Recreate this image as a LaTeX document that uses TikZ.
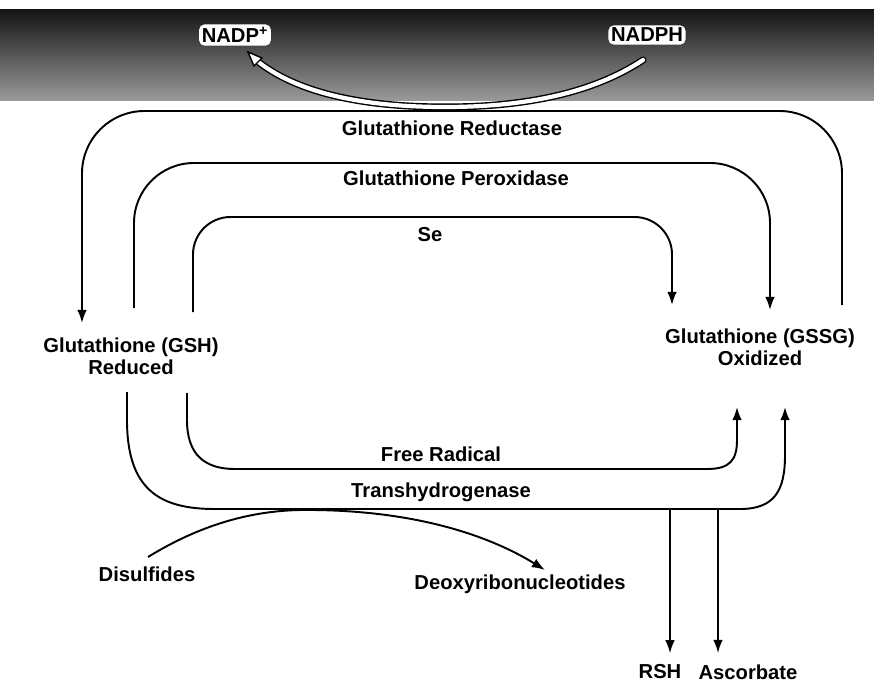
\documentclass[tikz,border=0pt]{standalone}
\usepackage{fontspec}
\setmainfont{Liberation Sans}
\usetikzlibrary{arrows.meta}

\begin{document}
\begin{tikzpicture}[
        x=0.02cm, y=-0.02cm,
        line width=1.1pt,
        lbl/.style={font=\bfseries\fontsize{11.5}{12.5}\selectfont, inner sep=1pt, align=center},
        cofactor/.style={lbl, fill=white, rounded corners=3pt, inner sep=1.5pt},
        arr/.style={-{Latex[length=7.5pt,width=5.5pt]}}]
        \useasboundingbox (0,0) rectangle (874,686);
        % BACKGROUND BAND
        \shade[top color=black!92, bottom color=black!40] (0,10) rectangle (874,100);
        % NODES
        % cofactors
        \node[cofactor] (nadp) at (235,35) {NADP\textsuperscript{+}};
        \node[cofactor] (nadph) at (647,35) {NADPH};
        % glutathione forms
        \node[lbl] (gsh) at (131,356) {Glutathione (GSH)\\Reduced};
        \node[lbl] (gssg) at (760,347) {Glutathione (GSSG)\\Oxidized};
        % enzyme labels
        \node[lbl] (red) at (452,128) {Glutathione Reductase};
        \node[lbl] (perox) at (456,178) {Glutathione Peroxidase};
        \node[lbl] (se) at (430,235) {Se};
        \node[lbl] (frad) at (441,454) {Free Radical};
        \node[lbl] (trans) at (441,492) {Transhydrogenase};
        % side products
        \node[lbl] (disulf) at (147,574) {Disulfides};
        \node[lbl] (deoxy) at (520,584) {Deoxyribonucleotides};
        \node[lbl] (rsh) at (660,672) {RSH};
        \node[lbl] (asc) at (748,672) {Ascorbate};
        % loop ends
        \coordinate (red-a) at (842,305);
        \coordinate (red-b) at (82,323);
        \coordinate (perox-a) at (134,308);
        \coordinate (perox-b) at (770,310);
        \coordinate (se-a) at (193,312);
        \coordinate (se-b) at (672,305);
        \coordinate (frad-a) at (187,393);
        \coordinate (frad-b) at (737,407);
        \coordinate (trans-a) at (127,392);
        \coordinate (trans-b) at (785,407);
        \coordinate (rsh-a) at (670,509);
        \coordinate (asc-a) at (718,509);
        \coordinate (disulf-a) at (148,557);
        \coordinate (deoxy-a) at (545,570);

        % ARROWS
        \draw[line width=0.8pt, double=white, double distance=2.4pt, line cap=round]
            (643,60) .. controls (590,95) and (520,107) .. (445,107)
            .. controls (360,107) and (295,92) .. (256,60);
        \fill[white, draw=black, line width=0.8pt] (248,52) -- (262,58) -- (254,66) -- cycle;
        \draw[arr, rounded corners=1.25cm] (red-a) -- (842,111) -- (82,111) -- (red-b);
        \draw[arr, rounded corners=1.2cm] (perox-a) -- (134,163) -- (770,163) -- (perox-b);
        \draw[arr, rounded corners=0.75cm] (se-a) -- (193,217) -- (672,217) -- (se-b);
        \draw[arr] (frad-a) -- (187,420) .. controls (187,455) and (205,469) .. (235,469)
            -- (707,469) .. controls (730,469) and (737,460) .. (737,440) -- (frad-b);
        \draw[arr] (trans-a) -- (127,420) .. controls (127,490) and (160,509) .. (215,509)
            -- (740,509) .. controls (775,509) and (785,490) .. (785,455) -- (trans-b);
        \draw[arr, shorten >=5pt] (rsh-a) -- (rsh.north -| rsh-a);
        \draw[arr, shorten >=5pt] (asc-a) -- (asc.north -| asc-a);
        \draw[arr] (disulf-a) .. controls (200,525) and (250,511) .. (300,510)
            .. controls (400,509) and (480,530) .. (deoxy-a);
\end{tikzpicture}
\end{document}
